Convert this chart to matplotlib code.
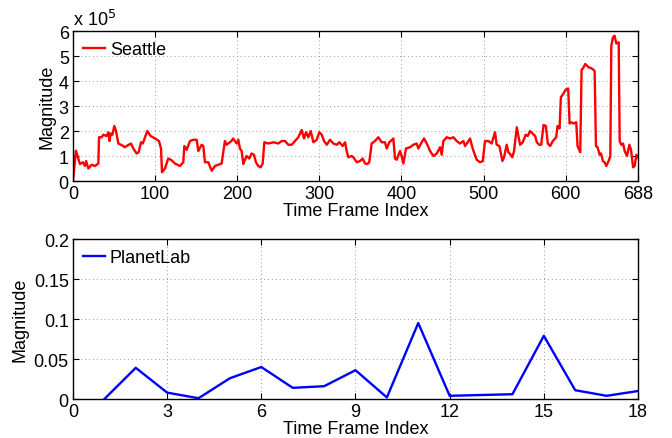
import matplotlib

matplotlib.use("Agg")
import matplotlib.pyplot as plt

plt.rcParams["font.family"] = ["Liberation Sans", "DejaVu Sans"]
plt.rcParams["font.size"] = 13

# Seattle trace (magnitude in units of 1e5)
seattle_idx = [
    0, 3.6, 8.5, 12, 14.6, 16, 18.7, 22.7, 26.8, 30.9, 31.7, 34.9, 36.9, 41, 43,
    44.5, 45.9, 48, 50.3, 52.4, 55.2, 61.3, 63, 65.3, 70.6, 73.5, 77.5, 80,
    82.8, 85, 87.7, 90.5, 94.6, 99.9, 104.7, 107.2, 108.4, 112, 116, 119.3,
    124.2, 130.3, 134.3, 135.6, 138.4, 142.5, 146.5, 150.6, 152.6, 156.7,
    158.7, 160.7, 164.8, 168.9, 172.9, 177, 181, 185, 187, 193, 195, 199.3,
    201.3, 203.3, 205.4, 207.4, 209.4, 211.4, 214.7, 217.5, 220.4, 222.8,
    225.6, 228.5, 231, 233, 237.9, 244, 250, 254.1, 258.2, 262.2, 266.3,
    270.4, 274.4, 278.5, 281.3, 283.8, 286.6, 289.5, 292.7, 296.8, 300, 302.9,
    305.7, 309, 313, 317, 321.2, 324.4, 328.4, 331.3, 333.3, 335.3, 339.4,
    341.4, 345.5, 349.5, 352.8, 355.6, 358.4, 360.8, 363.7, 367.7, 371.8,
    375.9, 379.9, 382, 385.2, 390.1, 392.1, 394.2, 398.2, 400.2, 402.3, 405.5,
    410.4, 414.4, 418.5, 420.5, 424.6, 427.5, 431.5, 434.8, 438.8, 442.9, 447,
    449, 451, 455.1, 459.1, 463.2, 467.2, 471.3, 475.4, 477.4, 480.6, 483.5,
    486.7, 488.8, 491.6, 495.7, 499, 501.7, 505.8, 509.8, 513.9, 515.9, 519.2,
    522.9, 524.9, 528.1, 530.2, 533, 535, 537.1, 540.4, 542.4, 544.4, 547.7,
    551.3, 553.8, 556.6, 559.5, 562.8, 564.8, 567.7, 570.1, 573, 575.8, 578.2,
    581.1, 584.3, 588.4, 590, 592.5, 594.1, 597.3, 599.8, 603, 604.7, 606.3,
    609.6, 612.8, 614.4, 617.7, 619.3, 620.9, 623.8, 627.8, 631.9, 635.2,
    636.8, 638.8, 641.2, 642.9, 645.3, 647.3, 649.4, 652.2, 654.3, 655.5,
    657.5, 659.5, 661.6, 664.5, 665.7, 667.7, 669.8, 671.8, 674.6, 677.5,
    679.5, 682, 684, 686, 688,
]
seattle_mag = [
    0.0, 1.21, 0.68, 0.75, 0.6, 0.8, 0.5, 0.65, 0.6, 0.7, 1.75, 1.75, 1.85, 1.8,
    1.95, 1.6, 1.9, 1.85, 2.2, 2.0, 1.5, 1.4, 1.35, 1.4, 1.5, 1.3, 1.1, 1.15,
    1.55, 1.5, 1.75, 2.0, 1.8, 1.7, 1.6, 1.3, 0.35, 0.5, 0.9, 0.85, 0.7,
    0.6, 0.75, 1.4, 1.25, 1.6, 1.65, 1.65, 1.2, 1.45,
    1.4, 0.75, 0.75, 0.41, 0.6, 0.65, 0.7, 1.6, 1.45, 1.6, 1.7, 1.5,
    1.65, 1.3, 1.2, 0.68, 0.85, 1.0, 0.9, 1.1, 1.05, 0.75,
    0.6, 0.55, 0.7, 1.55, 1.5, 1.55, 1.5, 1.6, 1.6, 1.45, 1.45,
    1.6, 1.75, 2.04, 1.7, 1.95, 1.75, 2.0, 1.55, 1.65, 1.95, 1.85,
    1.6, 1.45, 1.65, 1.5, 1.45, 1.55, 1.4, 1.55, 1.2, 0.95, 1.0,
    0.95, 0.75, 0.8, 0.9, 0.7, 0.68, 0.75, 1.5, 1.6, 1.75,
    1.55, 1.55, 1.3, 1.55, 1.7, 0.9, 0.85, 1.2, 1.0, 0.7, 1.3,
    1.35, 1.45, 1.5, 1.3, 1.55, 1.7, 1.45, 1.2, 1.0, 1.1, 1.35,
    1.05, 1.6, 1.75, 1.7, 1.75, 1.6, 1.5, 1.6, 1.4, 1.55, 1.7,
    1.3, 1.1, 0.85, 0.75, 0.8, 1.6, 1.6, 1.5, 1.95, 1.45, 1.4,
    0.8, 0.95, 1.45, 1.15, 1.05, 0.95, 1.2, 2.15, 1.8, 1.45, 1.55,
    1.85, 1.8, 2.0, 1.9, 1.8, 1.55, 1.45, 1.45, 2.24, 2.2, 1.5,
    1.4, 1.6, 1.75, 2.2, 2.1, 3.35, 3.5, 3.65, 3.7, 2.3, 2.35,
    2.3, 2.35, 1.4, 1.15, 4.45, 4.5, 4.68, 4.55, 4.5, 4.4,
    1.4, 1.35, 1.05, 1.1, 0.8, 0.75, 0.6, 0.8, 1.0, 5.4,
    5.75, 5.81, 5.5, 5.55, 1.6, 1.45, 1.5, 1.2, 1.0, 1.45,
    1.25, 0.55, 0.6, 1.05, 0.95,
]

planetlab_idx = list(range(1, 19))
planetlab_mag = [
    0.0, 0.039, 0.008, 0.001, 0.026, 0.040, 0.014, 0.016, 0.036,
    0.002, 0.095, 0.004, 0.005, 0.006, 0.079, 0.011, 0.004, 0.010,
]

top_xticks = [0, 100, 200, 300, 400, 500, 600, 688]
top_yticks = [0, 1, 2, 3, 4, 5, 6]
bot_xticks = [0, 3, 6, 9, 12, 15, 18]
bot_yticks = [0, 0.05, 0.1, 0.15, 0.2]
bot_ylabels = ["0", "0.05", "0.1", "0.15", "0.2"]


def style_axes(ax):
    """MATLAB-like box, inward ticks and dotted grid."""
    ax.tick_params(direction="in", top=True, right=True, length=4, width=0.8, pad=3)
    ax.grid(True, linestyle=(0, (1, 3)), color="0.6", linewidth=0.7)
    for spine in ax.spines.values():
        spine.set_linewidth(1.0)


fig = plt.figure(figsize=(6.72, 4.39), dpi=100)
ax1 = fig.add_axes([0.1086, 0.5854, 0.8408, 0.3417])
ax2 = fig.add_axes([0.1086, 0.0888, 0.8408, 0.3645])

ax1.plot(seattle_idx, seattle_mag, color="red", linewidth=1.7, label="Seattle")
ax1.set_xlim(0, 688)
ax1.set_ylim(0, 6)
ax1.set_xticks(top_xticks)
ax1.set_yticks(top_yticks)
ax1.set_xlabel("Time Frame Index", labelpad=0)
ax1.set_ylabel("Magnitude", labelpad=2)
ax1.text(0.0, 1.015, r"x 10$^5$", transform=ax1.transAxes, fontsize=13,
         ha="left", va="bottom")
style_axes(ax1)
ax1.legend(loc="upper left", frameon=False, handlelength=1.2, handletextpad=0.3,
           borderaxespad=0.3, borderpad=0.25)

ax2.plot(planetlab_idx, planetlab_mag, color="blue", linewidth=1.7, label="PlanetLab")
ax2.set_xlim(0, 18)
ax2.set_ylim(0, 0.2)
ax2.set_xticks(bot_xticks)
ax2.set_yticks(bot_yticks)
ax2.set_yticklabels(bot_ylabels)
ax2.set_xlabel("Time Frame Index", labelpad=0)
ax2.set_ylabel("Magnitude", labelpad=4)
style_axes(ax2)
ax2.legend(loc="upper left", frameon=False, handlelength=1.2, handletextpad=0.3,
           borderaxespad=0.3, borderpad=0.25)

fig.savefig("out.png", dpi=100)
